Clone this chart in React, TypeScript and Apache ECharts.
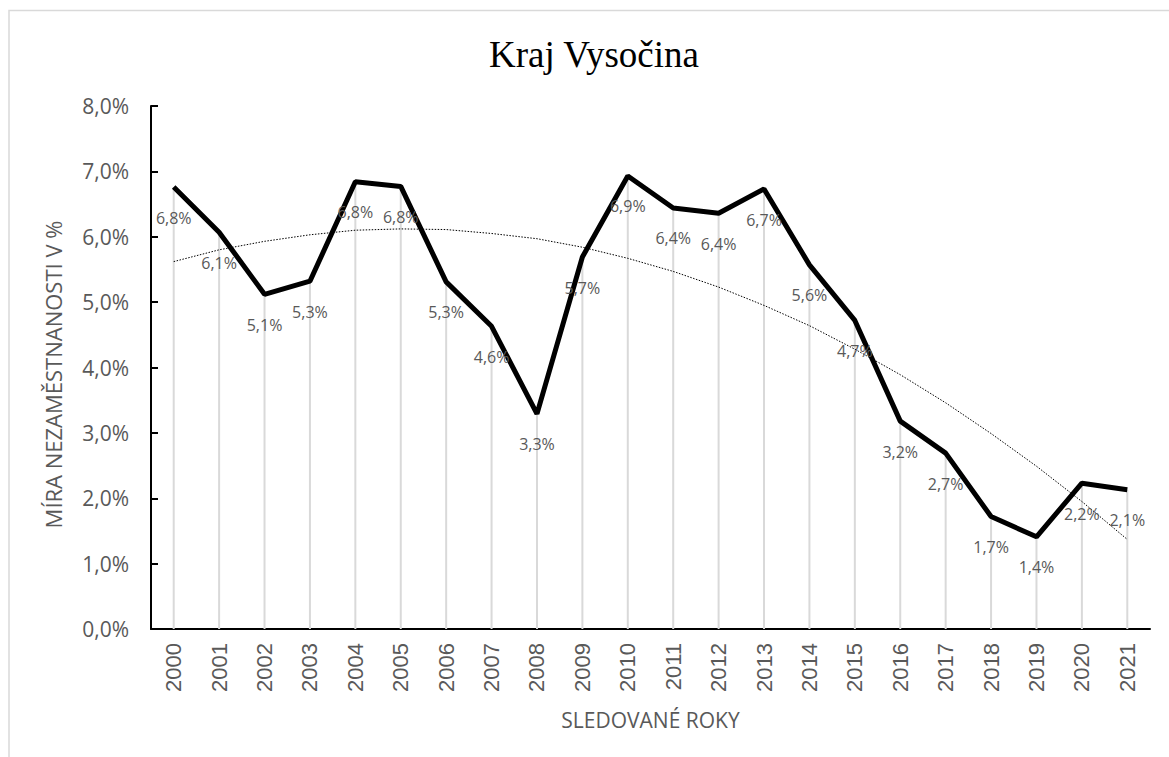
import React, { useEffect, useRef } from "react";
import * as echarts from "echarts";

const years = ["2000","2001","2002","2003","2004","2005","2006","2007","2008","2009","2010","2011","2012","2013","2014","2015","2016","2017","2018","2019","2020","2021"];
const unemployment = [6.76, 6.07, 5.12, 5.32, 6.84, 6.77, 5.31, 4.63, 3.29, 5.69, 6.93, 6.44, 6.36, 6.73, 5.57, 4.72, 3.18, 2.69, 1.72, 1.41, 2.23, 2.13];
const trend = [5.62, 5.80, 5.93, 6.03, 6.10, 6.12, 6.11, 6.05, 5.97, 5.84, 5.67, 5.47, 5.23, 4.95, 4.64, 4.28, 3.89, 3.46, 2.99, 2.49, 1.95, 1.37];
const yTicks = { min: 0, max: 8, interval: 1 };

const fmt = (v: number) => v.toFixed(1).replace(".", ",") + "%";
const FONT = "'Open Sans', sans-serif";
const GRAY = "#595959";

export default function App() {
  const ref = useRef<HTMLDivElement>(null);
  useEffect(() => {
    if (!ref.current) return;
    const chart = echarts.init(ref.current, null, { renderer: "svg" });
    chart.setOption({
      animation: false,
      backgroundColor: "#ffffff",
      title: {
        text: "Kraj Vysočina",
        left: 484,
        top: 31,
        textStyle: { fontFamily: "'Liberation Serif', 'Times New Roman', serif", fontSize: 37, fontWeight: "normal", color: "#000" },
      },
      graphic: [
        {
          type: "polyline",
          shape: { points: [[9, 757], [9, 10.5], [1169, 10.5]] },
          style: { stroke: "#d9d9d9", lineWidth: 1.5, fill: "none" },
          silent: true,
        },
      ],
      grid: { left: 151, right: 19, top: 106, bottom: 128, containLabel: false },
      xAxis: {
        type: "category",
        data: years,
        boundaryGap: true,
        name: "SLEDOVANÉ ROKY",
        nameLocation: "middle",
        nameGap: 80,
        nameTextStyle: { fontFamily: FONT, fontSize: 21, color: GRAY },
        axisLine: { lineStyle: { color: "#000", width: 2 } },
        axisTick: { show: false },
        axisLabel: { rotate: 90, fontFamily: "'Liberation Sans', Arial, sans-serif", fontSize: 22, color: GRAY, margin: 14 },
        splitLine: { show: false },
      },
      yAxis: {
        type: "value",
        min: yTicks.min,
        max: yTicks.max,
        interval: yTicks.interval,
        name: "MÍRA NEZAMĚSTNANOSTI V %",
        nameLocation: "middle",
        nameGap: 87,
        nameRotate: 90,
        nameTextStyle: { fontFamily: FONT, fontSize: 22, color: GRAY, padding: [0, 14, 0, 0] },
        axisLine: { show: true, lineStyle: { color: "#000", width: 2 } },
        axisTick: { show: true, inside: true, length: 7, lineStyle: { color: "#000", width: 2 } },
        axisLabel: { formatter: fmt, fontFamily: FONT, fontSize: 21, color: GRAY, margin: 22 },
        splitLine: { show: false },
      },
      series: [
        {
          type: "bar",
          data: unemployment,
          barWidth: 2,
          itemStyle: { color: "#d9d9d9" },
          silent: true,
          z: 1,
        },
        {
          type: "line",
          data: trend,
          symbol: "none",
          lineStyle: { color: "#000", width: 1, type: [1.5, 1.5] },
          silent: true,
          z: 2,
        },
        {
          type: "line",
          data: unemployment,
          symbol: "circle",
          symbolSize: 1,
          showSymbol: true,
          itemStyle: { color: "rgba(0,0,0,0)" },
          lineStyle: { color: "#000", width: 5 },
          label: {
            show: true,
            position: "bottom",
            distance: 22,
            formatter: (p: any) => fmt(p.value),
            fontFamily: FONT,
            fontSize: 16,
            color: GRAY,
          },
          z: 3,
        },
      ],
    });
    return () => chart.dispose();
  }, []);
  return <div ref={ref} style={{ position: "fixed", left: 0, top: 0, width: 1169, height: 757 }} />;
}
